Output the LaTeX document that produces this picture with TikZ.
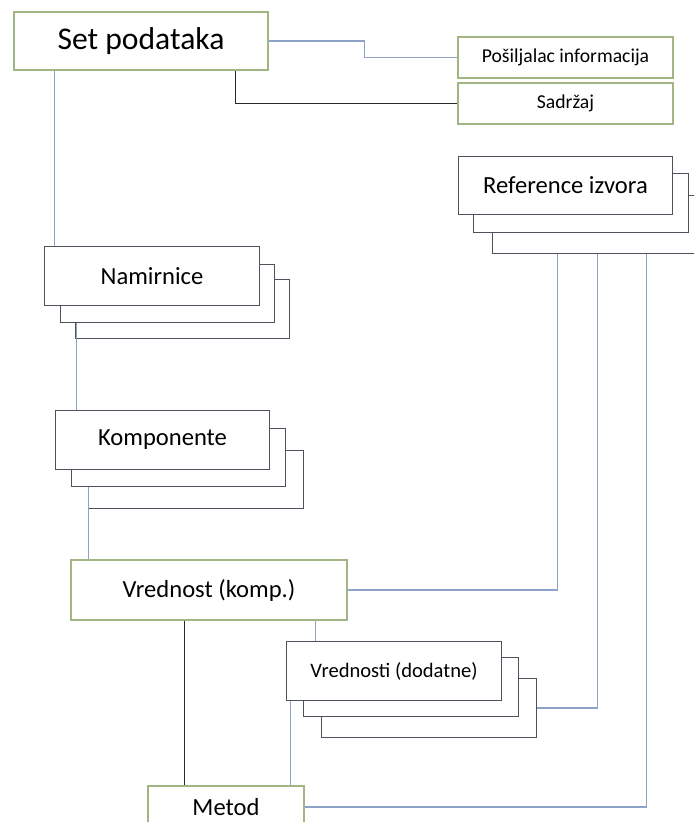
\documentclass[tikz,border=0pt]{standalone}
\usepackage{fontspec}
\setmainfont{Carlito}
\usetikzlibrary{calc}
\definecolor{boxgreen}{RGB}{162,182,132}
\definecolor{boxgray}{RGB}{75,82,92}
\definecolor{linkblue}{RGB}{140,162,198}
\definecolor{linkdark}{RGB}{40,40,40}

\begin{document}
\begin{tikzpicture}[x=0.02cm, y=-0.02cm,
  greenbox/.style={draw=boxgreen, fill=white, line width=0.8pt, inner sep=0pt},
  stackbox/.style={draw=boxgray, fill=white, line width=0.7pt, inner sep=0pt,
    minimum width=4.29cm, minimum height=1.17cm, font=\fontsize{14}{16}\selectfont},
  bluelink/.style={draw=linkblue, line width=0.8pt},
  darklink/.style={draw=linkdark, line width=0.7pt}]

\useasboundingbox[fill=white] (0,0) rectangle (694,822);
\clip (0,0) rectangle (694,822);

\node[greenbox, minimum width=5.08cm, minimum height=1.16cm, font=\fontsize{18}{20}\selectfont] (set) at (141,41) {Set podataka};
\node[greenbox, minimum width=4.3cm, minimum height=0.82cm, font=\fontsize{11.2}{13}\selectfont] (posil) at (565.5,57.5) {Pošiljalac informacija};
\node[greenbox, minimum width=4.3cm, minimum height=0.82cm, font=\fontsize{11.2}{13}\selectfont] (sadr) at (565.5,103.5) {Sadržaj};

\node[stackbox] (ref3) at (599.5,224.5) {};
\node[stackbox] (ref2) at (581,203) {};
\node[stackbox] (ref)  at (565.5,185.5) {Reference izvora};

\node[stackbox] (nam3) at (182.5,309) {};
\node[stackbox] (nam2) at (167.5,293.5) {};
\node[stackbox] (nam)  at (152,276) {Namirnice};

\node[stackbox] (kom3) at (196,479.5) {};
\node[stackbox] (kom2) at (178.5,457.5) {};
\node[stackbox] (kom)  at (162.5,440) {Komponente};

\node[greenbox, minimum width=5.52cm, minimum height=1.2cm, font=\fontsize{14}{16}\selectfont] (vk) at (209,590) {Vrednost (komp.)};

\node[stackbox, font=\fontsize{11.7}{13}\selectfont] (vd3) at (429,708) {};
\node[stackbox, font=\fontsize{11.7}{13}\selectfont] (vd2) at (411,687) {};
\node[stackbox, font=\fontsize{11.7}{13}\selectfont] (vd)  at (394,671) {Vrednosti (dodatne)};

\node[greenbox, minimum width=3.12cm, minimum height=0.84cm, font=\fontsize{14}{16}\selectfont] (metod) at (226,807) {Metod};

\draw[bluelink] (set.east) -- ++(96,0) |- (posil.west);
\draw[darklink] ($(set.south east)+(-33,0)$) |- (sadr.west);
\draw[bluelink] ($(set.south west)+(41,0)$) coordinate (c1) -- (c1 |- nam.north);
\draw[bluelink] ($(nam2.south west)+(17,0)$) coordinate (c2) -- (c2 |- kom.north);
\draw[bluelink] ($(kom2.south west)+(18,0)$) coordinate (c3) -- (c3 |- vk.north);

\draw[bluelink] (vk.east) -| ($(ref3.south west)+(66,0)$);
\draw[bluelink] (vd3.east) -| ($(ref3.south west)+(106,0)$);
\draw[bluelink] (metod.east) -| ($(ref3.south west)+(155,0)$);

\draw[bluelink] ($(vk.south west)+(245,0)$) coordinate (c4) -- (c4 |- vd.north);
\draw[darklink] ($(metod.north west)+(37,0)$) coordinate (c5) -- (c5 |- vk.south);
\draw[bluelink] ($(metod.north west)+(143,0)$) coordinate (c6) -- (c6 |- vd.south);

\end{tikzpicture}
\end{document}
